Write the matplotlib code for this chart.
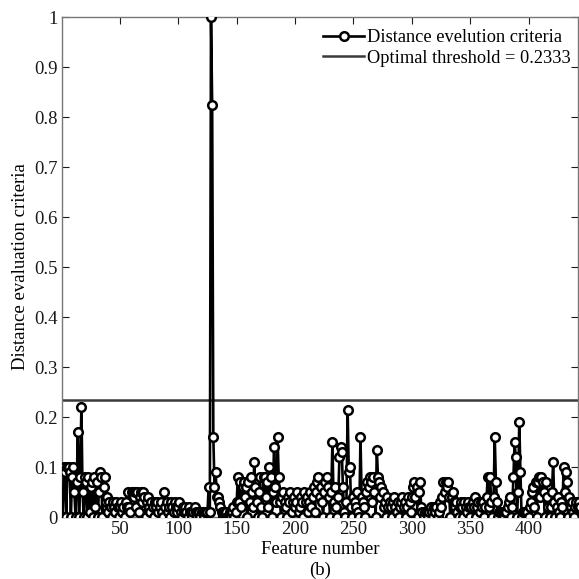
import matplotlib
matplotlib.use("Agg")
import matplotlib.pyplot as plt
import numpy as np

plt.rcParams['font.family'] = ['Liberation Serif', 'DejaVu Serif']
plt.rcParams['mathtext.fontset'] = 'stix'

criteria = [
    0.0, 0.1, 0.09, 0.0, 0.1, 0.1, 0.09, 0.0, 0.08, 0.1, 0.05, 0.0, 0.07, 0.17, 0.0, 0.08, 0.22, 0.05, 0.0, 0.08,
    0.07, 0.0, 0.08, 0.01, 0.06, 0.07, 0.0, 0.08, 0.02, 0.07, 0.0, 0.05, 0.09, 0.08, 0.0, 0.06, 0.08, 0.03, 0.04, 0.01,
    0.03, 0.02, 0.0, 0.03, 0.02, 0.01, 0.03, 0.02, 0.0, 0.02, 0.03, 0.01, 0.02, 0.0, 0.03, 0.02, 0.05, 0.02, 0.01, 0.05,
    0.05, 0.04, 0.05, 0.02, 0.05, 0.01, 0.04, 0.05, 0.03, 0.05, 0.04, 0.0, 0.03, 0.04, 0.02, 0.01, 0.03, 0.02, 0.0, 0.03,
    0.02, 0.03, 0.01, 0.02, 0.03, 0.01, 0.0, 0.05, 0.02, 0.03, 0.01, 0.02, 0.0, 0.03, 0.02, 0.01, 0.03, 0.02, 0.01, 0.02,
    0.03, 0.01, 0.0, 0.02, 0.01, 0.02, 0.01, 0.0, 0.02, 0.01, 0.01, 0.0, 0.01, 0.02, 0.01, 0.0, 0.01, 0.01, 0.0, 0.01,
    0.01, 0.0, 0.01, 0.01, 0.01, 0.06, 0.01, 1.0, 0.825, 0.16, 0.06, 0.09, 0.04, 0.04, 0.03, 0.02, 0.01, 0.0, 0.01, 0.0,
    0.01, 0.0, 0.0, 0.01, 0.0, 0.01, 0.02, 0.0, 0.01, 0.03, 0.08, 0.03, 0.07, 0.02, 0.06, 0.07, 0.04, 0.06, 0.0, 0.07,
    0.03, 0.08, 0.05, 0.02, 0.11, 0.06, 0.03, 0.0, 0.05, 0.08, 0.02, 0.0, 0.08, 0.08, 0.04, 0.07, 0.02, 0.1, 0.08, 0.0,
    0.05, 0.14, 0.06, 0.03, 0.16, 0.08, 0.03, 0.0, 0.04, 0.05, 0.03, 0.02, 0.0, 0.04, 0.03, 0.05, 0.01, 0.03, 0.04, 0.02,
    0.03, 0.05, 0.01, 0.02, 0.04, 0.03, 0.0, 0.05, 0.03, 0.04, 0.01, 0.03, 0.05, 0.02, 0.04, 0.06, 0.01, 0.05, 0.07, 0.08,
    0.04, 0.06, 0.03, 0.0, 0.05, 0.07, 0.08, 0.06, 0.04, 0.0, 0.05, 0.15, 0.03, 0.06, 0.02, 0.0, 0.04, 0.12, 0.14, 0.13,
    0.06, 0.01, 0.0, 0.03, 0.215, 0.09, 0.1, 0.02, 0.0, 0.04, 0.03, 0.02, 0.05, 0.01, 0.0, 0.16, 0.04, 0.03, 0.02, 0.0,
    0.05, 0.07, 0.06, 0.08, 0.07, 0.03, 0.08, 0.05, 0.0, 0.135, 0.08, 0.07, 0.04, 0.06, 0.05, 0.02, 0.03, 0.0, 0.04, 0.02,
    0.03, 0.02, 0.0, 0.03, 0.04, 0.02, 0.01, 0.03, 0.0, 0.02, 0.03, 0.04, 0.02, 0.03, 0.0, 0.02, 0.04, 0.03, 0.01, 0.04,
    0.06, 0.07, 0.04, 0.06, 0.0, 0.05, 0.07, 0.02, 0.01, 0.0, 0.01, 0.01, 0.01, 0.0, 0.01, 0.02, 0.01, 0.0, 0.02, 0.01,
    0.02, 0.0, 0.01, 0.03, 0.02, 0.04, 0.07, 0.05, 0.07, 0.06, 0.07, 0.04, 0.0, 0.04, 0.05, 0.03, 0.02, 0.03, 0.01, 0.0,
    0.02, 0.03, 0.02, 0.0, 0.03, 0.02, 0.01, 0.03, 0.02, 0.0, 0.02, 0.03, 0.02, 0.04, 0.0, 0.02, 0.03, 0.01, 0.03, 0.02,
    0.03, 0.0, 0.02, 0.04, 0.08, 0.02, 0.08, 0.03, 0.0, 0.04, 0.16, 0.07, 0.03, 0.0, 0.01, 0.01, 0.01, 0.01, 0.0, 0.01,
    0.01, 0.02, 0.03, 0.04, 0.0, 0.02, 0.08, 0.15, 0.12, 0.0, 0.05, 0.19, 0.09, 0.0, 0.01, 0.01, 0.01, 0.01, 0.01, 0.0,
    0.02, 0.03, 0.05, 0.06, 0.02, 0.07, 0.0, 0.07, 0.08, 0.04, 0.08, 0.07, 0.05, 0.0, 0.07, 0.04, 0.02, 0.0, 0.02, 0.05,
    0.11, 0.03, 0.0, 0.02, 0.04, 0.01, 0.0, 0.03, 0.02, 0.1, 0.05, 0.09, 0.07, 0.0, 0.04, 0.02, 0.03, 0.01, 0.0, 0.02,
    0.03, 0.02, 0.03, 0.02,
]
features = np.arange(1, len(criteria) + 1)
threshold = 0.2333

xticks = [50, 100, 150, 200, 250, 300, 350, 400]
yticks = [0, 0.1, 0.2, 0.3, 0.4, 0.5, 0.6, 0.7, 0.8, 0.9, 1]
ytick_labels = ['0', '0.1', '0.2', '0.3', '0.4', '0.5', '0.6', '0.7', '0.8', '0.9', '1']

fig = plt.figure(figsize=(5.79, 5.79), dpi=100)
ax = fig.add_axes([62/579, 1 - 517/579, (578 - 62)/579, 500/579])

ax.plot(features, criteria, color='black', lw=1.9, marker='o', ms=6.2,
        mfc='white', mec='black', mew=1.8, label='Distance evelution criteria', zorder=3)
ax.axhline(threshold, color='#3a3a3a', lw=1.8, label='Optimal threshold = 0.2333', zorder=2)

ax.set_xlim(0.4, 442.3)
ax.set_ylim(0, 1)
ax.set_xticks(xticks)
ax.set_yticks(yticks)
ax.set_yticklabels(ytick_labels)
ax.tick_params(direction='in', top=True, right=True, labelsize=13.5, length=5, width=0.8,
               colors='#1a1a1a', pad=3)
for s in ax.spines.values():
    s.set_color('#777777')
    s.set_linewidth(1.0)

ax.set_xlabel('Feature number\n(b)', fontsize=13.5, linespacing=1.3, labelpad=2)
ax.set_ylabel('Distance evaluation criteria', fontsize=13.5, labelpad=4)

leg = ax.legend(loc='upper right', frameon=False, fontsize=13.2, handlelength=2.2,
                handletextpad=0.2, labelspacing=0.2, borderaxespad=0.2,
                bbox_to_anchor=(1.008, 0.998))

fig.savefig('out.png', dpi=100)
